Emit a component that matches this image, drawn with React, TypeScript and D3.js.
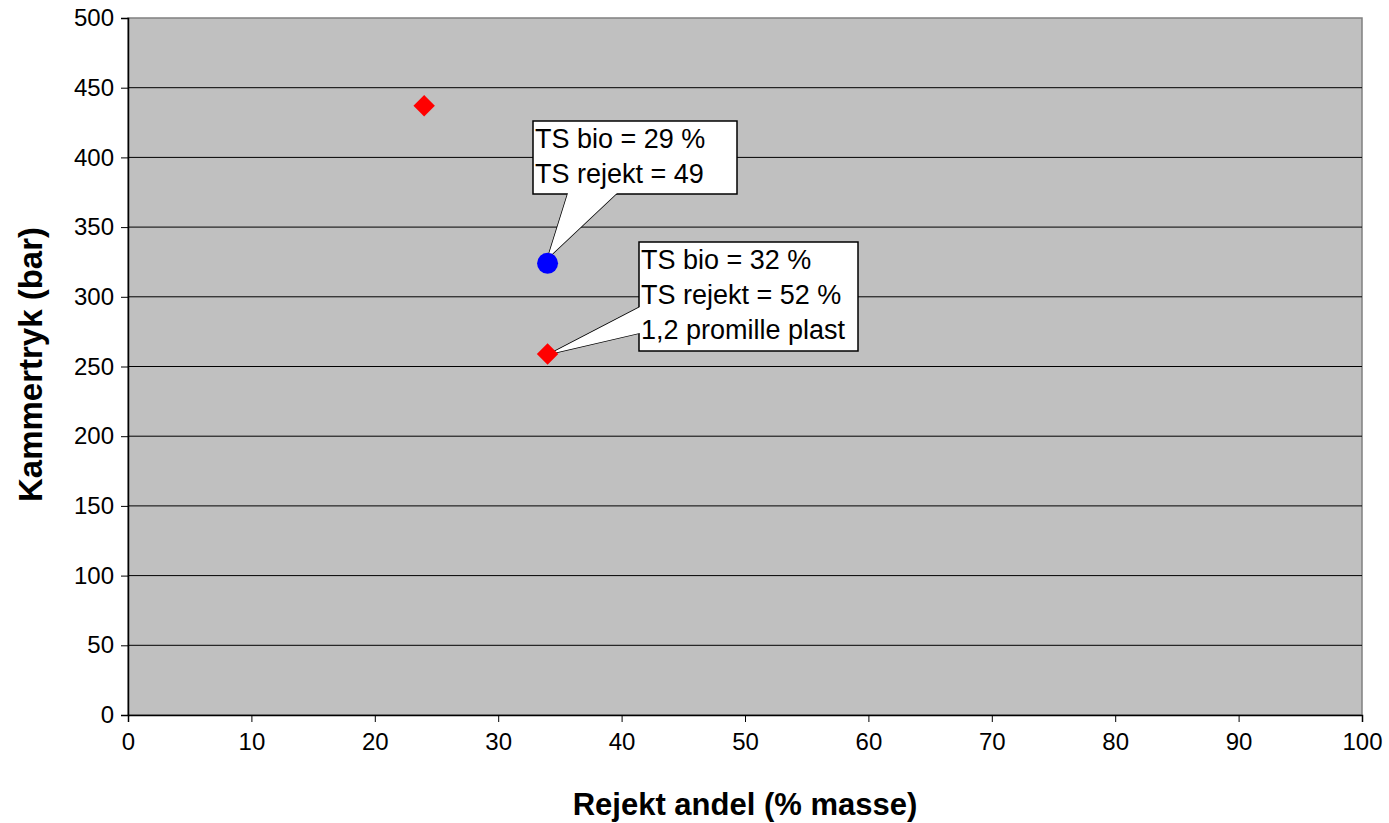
import React, { useEffect, useRef } from 'react';
import * as d3 from 'd3';

// data
const redX = [24, 34];
const redY = [437, 259];
const blueX = [34];
const blueY = [324];
const xTicks = [0, 10, 20, 30, 40, 50, 60, 70, 80, 90, 100];
const yTicks = [0, 50, 100, 150, 200, 250, 300, 350, 400, 450, 500];
const note1 = ['TS bio = 29 %', 'TS rejekt = 49'];
const note2 = ['TS bio = 32 %', 'TS rejekt = 52 %', '1,2 promille plast'];

const W = 1389;
const H = 823;
const FONT = 'Liberation Sans, Arial, sans-serif';

const App = () => {
  const svgRef = useRef<SVGSVGElement>(null);

  useEffect(() => {
    const svg = d3.select(svgRef.current);
    svg.selectAll('*').remove();

    const m = { top: 18, right: 27, bottom: 108, left: 128 };
    const x = d3.scaleLinear().domain([0, 100]).range([m.left, W - m.right]);
    const y = d3.scaleLinear().domain([0, 500]).range([H - m.bottom, m.top]);

    // plot background
    svg.append('rect')
      .attr('x', x(0)).attr('y', y(500))
      .attr('width', x(100) - x(0)).attr('height', y(0) - y(500))
      .attr('fill', '#c0c0c0')
      .attr('stroke', '#808080').attr('stroke-width', 1.5);

    // grid lines
    svg.append('g').selectAll('line')
      .data(yTicks.filter(d => d > 0 && d < 500))
      .join('line')
      .attr('x1', x(0)).attr('x2', x(100))
      .attr('y1', d => y(d)).attr('y2', d => y(d))
      .attr('stroke', '#000').attr('stroke-width', 1);

    // axes
    const xAxis = svg.append('g')
      .attr('transform', `translate(0,${y(0)})`)
      .call(d3.axisBottom(x).tickValues(xTicks).tickSize(7).tickPadding(11));
    const yAxis = svg.append('g')
      .attr('transform', `translate(${x(0)},0)`)
      .call(d3.axisLeft(y).tickValues(yTicks).tickSize(7).tickPadding(7));
    [xAxis, yAxis].forEach(g => {
      g.select('.domain').attr('stroke', '#000').attr('stroke-width', 1.5);
      g.selectAll('.tick line').attr('stroke', '#000');
      g.selectAll('.tick text')
        .attr('font-family', FONT).attr('font-size', 24).attr('fill', '#000');
    });

    // axis titles
    svg.append('text')
      .attr('x', (x(0) + x(100)) / 2).attr('y', 815)
      .attr('text-anchor', 'middle')
      .attr('font-family', FONT).attr('font-size', 31).attr('font-weight', 'bold')
      .text('Rejekt andel (% masse)');
    svg.append('text')
      .attr('transform', `translate(42,${(y(0) + y(500)) / 2 - 2}) rotate(-90)`)
      .attr('text-anchor', 'middle')
      .attr('font-family', FONT).attr('font-size', 33).attr('font-weight', 'bold')
      .text('Kammertryk (bar)');

    // callouts
    const callout = (lines: string[], bx: number, by: number, bw: number, bh: number, tail: string) => {
      const g = svg.append('g');
      g.append('path').attr('d', tail)
        .attr('fill', '#fff').attr('stroke', '#000').attr('stroke-width', 1.5);
      g.append('rect')
        .attr('x', bx).attr('y', by).attr('width', bw).attr('height', bh)
        .attr('fill', '#fff').attr('stroke', '#000').attr('stroke-width', 1.5);
      // hide tail seam
      g.append('path').attr('d', tail).attr('fill', '#fff').attr('stroke', 'none');
      g.selectAll('text.l').data(lines).join('text')
        .attr('x', bx + 2).attr('y', (_, i) => by + 27 + i * 35)
        .attr('font-family', FONT).attr('font-size', 27).attr('fill', '#000')
        .text(d => d);
    };

    const p1 = [x(blueX[0]), y(blueY[0]) - 5];
    callout(note1, 533, 121, 204, 73,
      `M568,193 L${p1[0]},${p1[1]} L617,193 Z`);
    const p2 = [x(redX[1]) + 2, y(redY[1])];
    callout(note2, 639, 242, 219, 109,
      `M640,307 L${p2[0]},${p2[1]} L640,333 Z`);

    // red diamonds
    svg.append('g').selectAll('path')
      .data(redX.map((d, i) => [d, redY[i]]))
      .join('path')
      .attr('d', d3.symbol(d3.symbolSquare, 230)())
      .attr('transform', d => `translate(${x(d[0])},${y(d[1])}) rotate(45)`)
      .attr('fill', '#ff0000');

    // blue circle
    svg.append('g').selectAll('circle')
      .data(blueX.map((d, i) => [d, blueY[i]]))
      .join('circle')
      .attr('cx', d => x(d[0])).attr('cy', d => y(d[1]))
      .attr('r', 10.5)
      .attr('fill', '#0000ff');
  }, []);

  return <svg ref={svgRef} width={W} height={H} style={{ display: 'block', position: 'absolute', left: 0, top: 0 }} />;
};

export default App;
